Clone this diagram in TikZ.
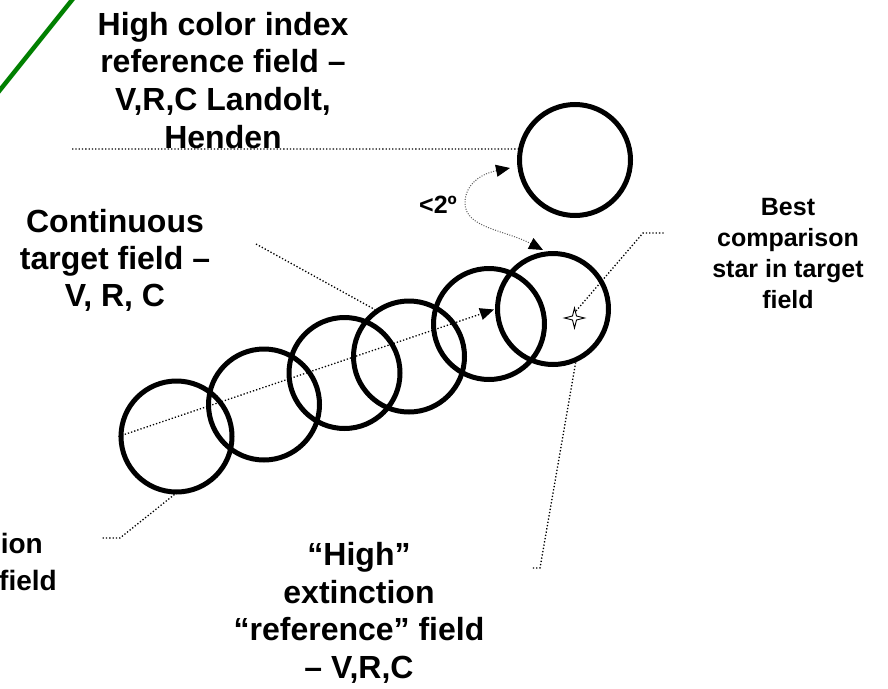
\documentclass[tikz,border=0pt]{standalone}
\usepackage{fontspec}
\setmainfont{Liberation Sans}
\usetikzlibrary{arrows.meta,calc}
\tikzset{
  ring/.style={circle, draw, line width=5pt, minimum size=111pt, inner sep=0pt},
  big/.style={font=\fontsize{32}{37.5}\selectfont\bfseries, anchor=base, inner sep=0pt},
  cut/.style={font=\fontsize{28}{37.5}\selectfont\bfseries, anchor=base east, inner sep=0pt},
  small/.style={font=\fontsize{25}{31}\selectfont\bfseries, anchor=base, inner sep=0pt},
  leader/.style={line width=1.3pt, dash pattern=on 1.3pt off 2pt},
  curvy/.style={line width=1pt, gray!70!black, dash pattern=on 1pt off 1.5pt},
  mytip/.tip={Triangle[length=14pt,width=12pt,color=black]}
}
\begin{document}
\begin{tikzpicture}[x=1pt,y=-1pt]
\useasboundingbox (0,0) rectangle (888,688);
\clip (0,0) rectangle (888,688);
% green stroke at the top left
\draw[green!50!black, line width=4.5pt] (-6,97.5) -- (78,-7.5);
% fields
\node[ring] (top) at (575,160) {};
\node[ring] (c1) at (176.5,436.5) {};
\node[ring] (c2) at (264,404.5) {};
\node[ring] (c3) at (344.5,373) {};
\node[ring] (c4) at (409,356.5) {};
\node[ring] (c5) at (489,324) {};
\node[ring] (c6) at (553,309) {};
% texts
\node[big] (h1) at (223,35) {High color index};
\node[big] (h2) at (223,72.5) {reference field –};
\node[big] (h3) at (223,110) {V,R,C Landolt,};
\node[big] (h4) at (223,148) {Henden};
\node[big] (t1) at (115,232) {Continuous};
\node[big] (t2) at (115,269) {target field –};
\node[big] (t3) at (115,306) {V, R, C};
\node[small] (ang) at (438,213) {<2º};
\node[small] (b1) at (788,215) {Best};
\node[small] (b2) at (788,246) {comparison};
\node[small] (b3) at (788,277) {star in target};
\node[small] (b4) at (788,308) {field};
\node[big] (e1) at (359,565) {“High”};
\node[big] (e2) at (359,603) {extinction};
\node[big] (e3) at (359,640) {“reference” field};
\node[big] (e4) at (359,678) {– V,R,C};
\node[cut] (l1) at (43,553) {ion};
\node[cut] (l2) at (57,590) {field};
% coordinates
\coordinate (star) at (574.5,318);
\coordinate (sl) at (576,311);
\coordinate (slA) at (643,233);
\coordinate (slB) at (665,233);
\coordinate (hl) at (72,149);
\coordinate (cl) at (256,244);
\coordinate (dA) at (540,568);
\coordinate (dB) at (532,568);
\coordinate (fA) at (120,538);
\coordinate (fB) at (102,538);
\coordinate (mtip) at (494,309.5);
\coordinate (ca) at (510,168);
\coordinate (cm) at (465,203);
\coordinate (cb) at (543,250);
% leaders
\draw[leader] (hl) -- (top.169);
\draw[leader] (cl) -- (c4.126);
\draw[leader] (c6.-67) -- (dA) -- (dB);
\draw[leader] (c1.-92) -- (fA) -- (fB);
\draw[leader] (sl) -- (slA) -- (slB);
\draw[leader, -{mytip}] (c1.west) -- (mtip);
% angle arrow
\draw[curvy, {mytip}-{mytip}] (ca) .. controls (480,174) and (465,185) .. (cm)
   .. controls (465,228) and (505,230) .. (cb);
% star
\draw[fill=white, line width=0.9pt] (star) ++(0,-10) -- ++(2,8) -- ++(8,2) -- ++(-8,2)
   -- ++(-2,8) -- ++(-2,-8) -- ++(-8,-2) -- ++(8,-2) -- cycle;
\end{tikzpicture}
\end{document}
